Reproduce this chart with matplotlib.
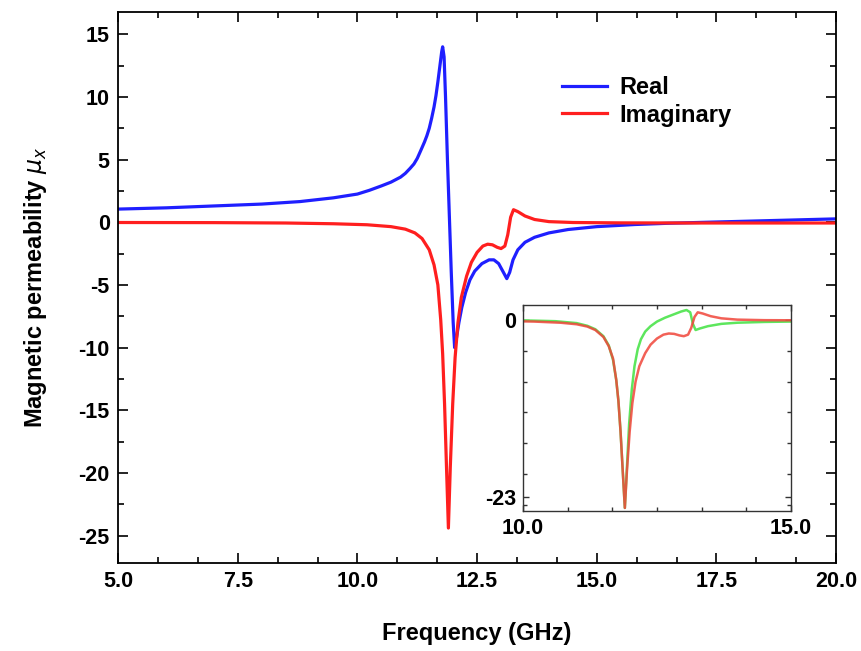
import numpy as np
import matplotlib
matplotlib.use('Agg')
import matplotlib.pyplot as plt
from matplotlib.ticker import MultipleLocator, FormatStrFormatter, FixedLocator

plt.rcParams['font.family'] = ['Liberation Sans', 'DejaVu Sans']
plt.rcParams['font.weight'] = 'bold'
plt.rcParams['axes.labelweight'] = 'bold'
plt.rcParams['axes.unicode_minus'] = False
plt.rcParams['mathtext.fontset'] = 'custom'
plt.rcParams['mathtext.it'] = 'DejaVu Sans:italic:normal'
plt.rcParams['mathtext.rm'] = 'DejaVu Sans:normal'

# Real part (blue)
freq_re = [5.0, 6.0, 7.0, 8.0, 8.8, 9.5, 10.0, 10.25, 10.5, 10.7, 10.9, 11.0, 11.1,
           11.18, 11.25, 11.32, 11.4, 11.45, 11.5, 11.55, 11.6, 11.64, 11.68, 11.71,
           11.74, 11.76, 11.78, 11.81, 11.84, 11.88, 11.92, 11.96, 12.0, 12.03,
           12.07, 12.12, 12.18, 12.26, 12.35, 12.45, 12.6, 12.75, 12.85, 12.95, 13.05,
           13.12, 13.18, 13.25, 13.35, 13.5, 13.7, 14.0, 14.4, 15.0, 15.8, 16.5, 17.5,
           18.5, 19.3, 20.0]
mu_real = [1.05, 1.15, 1.3, 1.45, 1.65, 1.95, 2.25, 2.55, 2.9, 3.2, 3.6, 3.9, 4.3,
           4.65, 5.1, 5.7, 6.4, 6.9, 7.5, 8.3, 9.2, 10.1, 11.2, 12.1,
           13.0, 13.6, 14.0, 13.2, 10.0, 5.0, 0.5, -4.0, -8.0, -10.0,
           -9.2, -8.0, -6.8, -5.6, -4.6, -3.9, -3.3, -3.0, -3.0, -3.3, -4.0,
           -4.5, -4.0, -3.0, -2.2, -1.6, -1.2, -0.85, -0.58, -0.35, -0.18, -0.08, 0.02,
           0.12, 0.2, 0.27]

# Imaginary part (red)
freq_im = [5.0, 7.0, 8.5, 9.5, 10.2, 10.7, 11.0, 11.2, 11.35, 11.5, 11.6, 11.68,
           11.74, 11.78, 11.82, 11.86, 11.9, 11.94, 11.99, 12.04, 12.1, 12.17, 12.28,
           12.38, 12.5, 12.62, 12.72, 12.82, 12.92, 13.0, 13.08, 13.14, 13.2, 13.26,
           13.35, 13.5, 13.7, 14.0, 14.5, 15.5, 17.0, 18.5, 20.0]
mu_imag = [-0.02, -0.03, -0.06, -0.12, -0.2, -0.35, -0.55, -0.85, -1.3, -2.2, -3.4, -5.0,
           -7.8, -10.5, -14.5, -19.5, -24.4, -19.5, -14.5, -10.8, -8.0, -6.0, -4.3,
           -3.2, -2.4, -1.9, -1.75, -1.8, -2.0, -2.1, -1.9, -1.0, 0.4, 1.0,
           0.85, 0.5, 0.22, 0.05, -0.02, -0.05, -0.06, -0.06, -0.06]

# Inset: green curve
freq_green = [10.0, 10.6, 11.0, 11.2, 11.35, 11.5, 11.6, 11.68, 11.74, 11.78, 11.82,
              11.86, 11.9, 11.94, 11.98, 12.03, 12.08, 12.14, 12.2, 12.28, 12.38, 12.5,
              12.65, 12.8, 12.95, 13.05, 13.12, 13.17, 13.22, 13.3, 13.45, 13.7, 14.0,
              14.5, 15.0]
mu_green = [-0.05, -0.15, -0.4, -0.75, -1.2, -2.1, -3.3, -5.2, -7.8, -10.5, -14.5,
            -19.5, -24.4, -19.0, -13.5, -9.0, -6.0, -3.8, -2.5, -1.5, -0.8, -0.2,
            0.3, 0.7, 1.1, 1.3, 1.0, -0.5, -1.3, -1.1, -0.8, -0.5, -0.35,
            -0.25, -0.2]

fig = plt.figure(figsize=(8.62, 6.51), dpi=100)
ax = fig.add_axes([0.137, 0.135, 0.833, 0.847])

ax.plot(freq_re, mu_real, color='#1f1fff', lw=2.3, label='Real')
ax.plot(freq_im, mu_imag, color='#ff1f1f', lw=2.3, label='Imaginary')

ax.set_xlim(5, 20)
ax.set_ylim(-27.2, 16.8)
ax.xaxis.set_major_locator(MultipleLocator(2.5))
ax.xaxis.set_minor_locator(MultipleLocator(2.5 / 3))
ax.xaxis.set_major_formatter(FormatStrFormatter('%.1f'))
ax.yaxis.set_major_locator(MultipleLocator(5))
ax.yaxis.set_minor_locator(MultipleLocator(2.5))
ax.tick_params(which='both', direction='in', top=True, right=True, width=1.2,
               labelsize=15.5, pad=6)
ax.tick_params(which='major', length=7)
ax.tick_params(which='minor', length=4)
for s in ax.spines.values():
    s.set_linewidth(1.3)

ax.set_xlabel('Frequency (GHz)', fontsize=17, labelpad=21)
ax.set_ylabel(r'Magnetic permeability $\mu_x$', fontsize=17, labelpad=21)

ax.legend(loc='upper left', bbox_to_anchor=(550 / 862, 1 - 64 / 651),
          bbox_transform=fig.transFigure, frameon=False, fontsize=17,
          handlelength=1.9, handletextpad=0.55, labelspacing=0.2, borderpad=0)

# inset
ins = fig.add_axes([523 / 862, 1 - 511 / 651, 268 / 862, 206 / 651])
ins.plot(freq_green, mu_green, color='#5de65d', lw=1.8)
ins.plot(freq_im, mu_imag, color='#f0453a', lw=1.8, alpha=0.85)
ins.set_xlim(10, 15)
ins.set_ylim(-24.8, 1.95)
ins.xaxis.set_major_locator(FixedLocator([10, 15]))
ins.xaxis.set_minor_locator(MultipleLocator(5 / 6))
ins.xaxis.set_major_formatter(FormatStrFormatter('%.1f'))
ins.yaxis.set_major_locator(FixedLocator([0, -23]))
ins.yaxis.set_minor_locator(MultipleLocator(4))
ins.tick_params(which='both', direction='in', top=True, right=True, width=1.0,
                labelsize=15.5, pad=5, color='#333333')
ins.tick_params(which='major', length=4)
ins.tick_params(which='minor', length=3)
for s in ins.spines.values():
    s.set_linewidth(1.0)
    s.set_color('#333333')

fig.savefig('out.png', dpi=100)
